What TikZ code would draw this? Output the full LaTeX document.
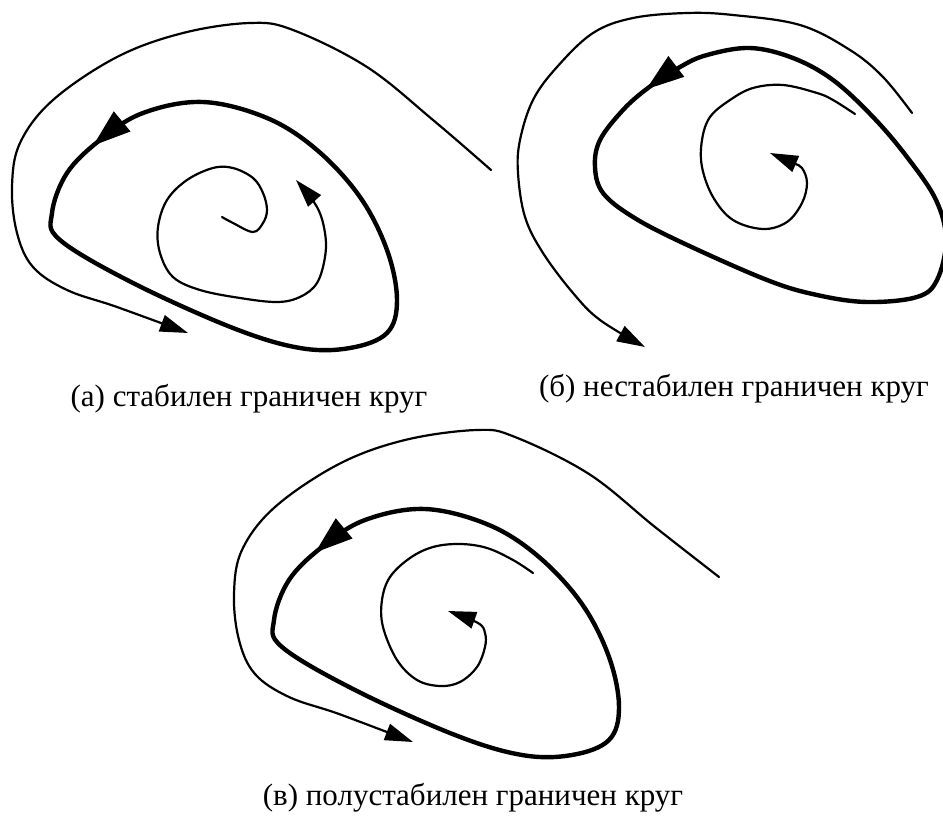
\documentclass[tikz,border=0pt]{standalone}
\usepackage{fontspec}
\setmainfont{Liberation Serif}
\usetikzlibrary{arrows.meta,decorations.markings}
\tikzset{
  thincurve/.style={line width=2.2pt, line cap=round, line join=round},
  thickcurve/.style={line width=4.4pt, line join=round},
  smalltip/.style={-{Triangle[length=28pt,width=17pt]}},
  cyclearrow/.style={postaction={decorate}, decoration={markings,
      mark=at position #1 with {\arrow{Triangle[length=38pt,width=25pt]}}}},
  caption/.style={anchor=base, font=\fontsize{31}{34}\selectfont, inner sep=0pt}
}
\begin{document}
\begin{tikzpicture}[x=1pt,y=-1pt]
\clip (0,0) rectangle (943,816);
\useasboundingbox (0,0) rectangle (943,816);

% ---------- (a) stable ----------
\draw[thincurve, smalltip] plot[smooth, tension=0.6] coordinates {
  (491,170) (433,120) (367,67) (293,30) (250,23) (183,33) (117,57) (53,100)
  (20,143) (12,187) (17,233) (33,267) (67,290) (117,307) (188,333)};
\draw[thickcurve, cyclearrow=0.065] plot[smooth cycle, tension=0.6] coordinates {
  (203,102) (143,113) (100,140) (67,173) (52,213) (60,240) (133,283) (233,328)
  (300,348) (350,348) (387,333) (397,300) (387,250) (360,197) (317,150) (267,118)};
\draw[thincurve, smalltip] plot[smooth, tension=0.6] coordinates {
  (222,217) (233,223) (253,232) (263,223) (267,210) (263,193) (253,178) (233,168)
  (213,168) (187,180) (167,200) (158,227) (160,253) (173,277) (200,290) (240,298)
  (277,302) (300,297) (317,283) (325,257) (325,233) (317,207) (296,180)};
\node[caption] (capa) at (249,406) {(а) стабилен граничен круг};

% ---------- (b) unstable ----------
\draw[thincurve, smalltip] plot[smooth, tension=0.6] coordinates {
  (912,113) (883,77) (850,50) (800,25) (733,15) (687,13) (633,18) (593,33)
  (557,67) (533,100) (520,140) (518,173) (525,217) (543,253) (573,293) (600,320) (645,347)};
\draw[thickcurve, cyclearrow=0.075] plot[smooth cycle, tension=0.6] coordinates {
  (750,48) (707,55) (680,67) (648,88) (623,110) (600,140) (595,167) (603,193)
  (633,217) (683,243) (767,280) (817,295) (867,302) (917,297) (937,280) (946,240)
  (936,200) (907,157) (873,117) (833,80) (793,58)};
\draw[thincurve, smalltip] plot[smooth, tension=0.6] coordinates {
  (855,114) (833,100) (817,93) (783,85) (753,88) (730,100) (710,117) (702,140)
  (702,167) (713,197) (733,220) (763,229) (787,222) (802,203) (807,183) (802,168)
  (793,163) (770,153)};
\node[caption] (capb) at (734,396) {(б) нестабилен граничен круг};

% ---------- (c) semistable ----------
\begin{scope}[shift={(222,407)}]
\draw[thincurve, smalltip] plot[smooth, tension=0.6] coordinates {
  (497,170) (433,120) (367,67) (293,30) (255,23) (183,33) (117,57) (53,100)
  (20,143) (12,187) (17,233) (33,267) (67,290) (117,307) (191,335)};
\draw[thickcurve, cyclearrow=0.065] plot[smooth cycle, tension=0.6] coordinates {
  (203,102) (143,113) (100,140) (67,173) (52,213) (60,240) (133,283) (233,328)
  (300,348) (350,348) (387,333) (397,300) (387,250) (360,197) (317,150) (267,118)};
\end{scope}
\draw[thincurve, smalltip] plot[smooth, tension=0.6] coordinates {
  (533,573) (513,560) (487,548) (460,544) (433,547) (410,558) (390,577) (382,600)
  (383,627) (397,660) (417,680) (440,686) (460,682) (477,667) (485,647) (485,633)
  (478,623) (448,611)};
\node[caption] (capc) at (473,805) {(в) полустабилен граничен круг};
\end{tikzpicture}
\end{document}
